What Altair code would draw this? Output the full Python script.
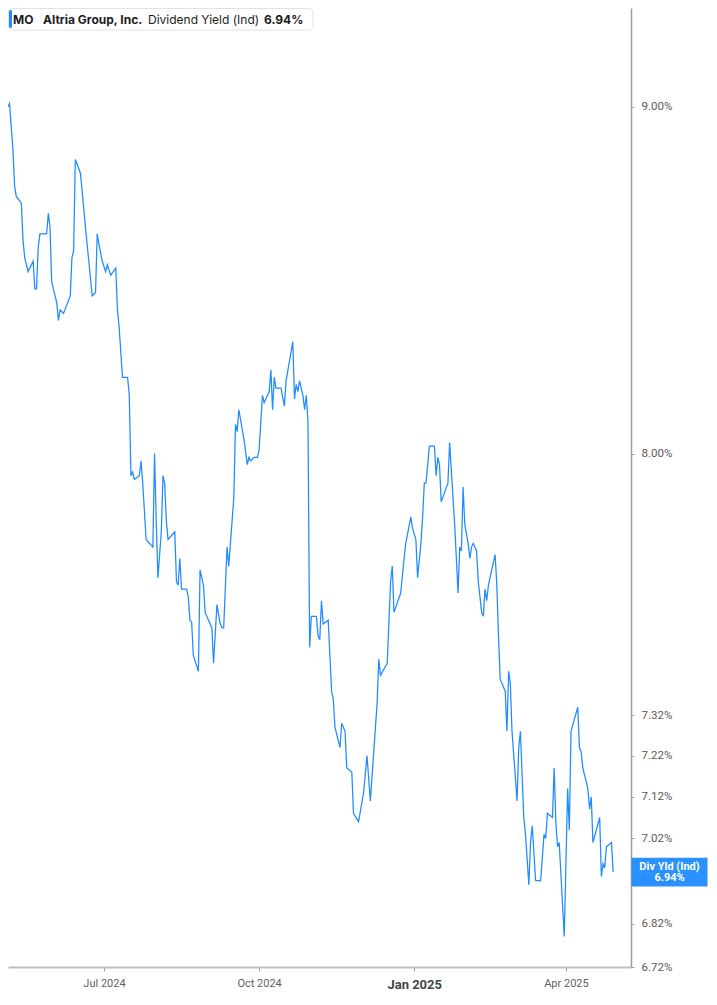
import altair as alt
import pandas as pd

dates = [
    "2024-04-30", "2024-05-01", "2024-05-02", "2024-05-03", "2024-05-05", "2024-05-06", "2024-05-08", "2024-05-09",
    "2024-05-10", "2024-05-13", "2024-05-14", "2024-05-15", "2024-05-17", "2024-05-20", "2024-05-21", "2024-05-22",
    "2024-05-23", "2024-05-24", "2024-05-28", "2024-05-29", "2024-05-30", "2024-05-31",
    "2024-06-03", "2024-06-04", "2024-06-05", "2024-06-07", "2024-06-11", "2024-06-12", "2024-06-13", "2024-06-14",
    "2024-06-17", "2024-06-18", "2024-06-20", "2024-06-22", "2024-06-24", "2024-06-26", "2024-06-27", "2024-06-28",
    "2024-06-30",
    "2024-07-02", "2024-07-03", "2024-07-05", "2024-07-08", "2024-07-09", "2024-07-10", "2024-07-12", "2024-07-15",
    "2024-07-16", "2024-07-17", "2024-07-18", "2024-07-19", "2024-07-22", "2024-07-23", "2024-07-24", "2024-07-26",
    "2024-07-30", "2024-07-31",
    "2024-08-01", "2024-08-02", "2024-08-04", "2024-08-05", "2024-08-06", "2024-08-07", "2024-08-08", "2024-08-12",
    "2024-08-13", "2024-08-14", "2024-08-15", "2024-08-16", "2024-08-19", "2024-08-20", "2024-08-21", "2024-08-22",
    "2024-08-23", "2024-08-26", "2024-08-27", "2024-08-29", "2024-08-30",
    "2024-09-03", "2024-09-04", "2024-09-06", "2024-09-08", "2024-09-09", "2024-09-10", "2024-09-12", "2024-09-13",
    "2024-09-16", "2024-09-17", "2024-09-18", "2024-09-19", "2024-09-22", "2024-09-24", "2024-09-25", "2024-09-26",
    "2024-09-28", "2024-09-30",
    "2024-10-01", "2024-10-03", "2024-10-04", "2024-10-07", "2024-10-08", "2024-10-09", "2024-10-10", "2024-10-11",
    "2024-10-14", "2024-10-16", "2024-10-17", "2024-10-21", "2024-10-22", "2024-10-23", "2024-10-24", "2024-10-25",
    "2024-10-27", "2024-10-28", "2024-10-29", "2024-10-30", "2024-10-31",
    "2024-11-01", "2024-11-04", "2024-11-05", "2024-11-06", "2024-11-07", "2024-11-08", "2024-11-11", "2024-11-13",
    "2024-11-14", "2024-11-15", "2024-11-18", "2024-11-19", "2024-11-21", "2024-11-22", "2024-11-25", "2024-11-26",
    "2024-11-29",
    "2024-12-02", "2024-12-04", "2024-12-06", "2024-12-08", "2024-12-10", "2024-12-11", "2024-12-12", "2024-12-16",
    "2024-12-18", "2024-12-19", "2024-12-20", "2024-12-24", "2024-12-26", "2024-12-27", "2024-12-30", "2024-12-31",
    "2025-01-02", "2025-01-03", "2025-01-05", "2025-01-06", "2025-01-07", "2025-01-08", "2025-01-10", "2025-01-13",
    "2025-01-14", "2025-01-15", "2025-01-16", "2025-01-17", "2025-01-21", "2025-01-22", "2025-01-25", "2025-01-26",
    "2025-01-27", "2025-01-28", "2025-01-29", "2025-01-30", "2025-01-31",
    "2025-02-02", "2025-02-03", "2025-02-04", "2025-02-05", "2025-02-07", "2025-02-08", "2025-02-10", "2025-02-11",
    "2025-02-12", "2025-02-13", "2025-02-14", "2025-02-16", "2025-02-18", "2025-02-19", "2025-02-20", "2025-02-21",
    "2025-02-24", "2025-02-25", "2025-02-26", "2025-02-27", "2025-02-28",
    "2025-03-03", "2025-03-04", "2025-03-05", "2025-03-07", "2025-03-08", "2025-03-10", "2025-03-11", "2025-03-12",
    "2025-03-14", "2025-03-17", "2025-03-19", "2025-03-20", "2025-03-21", "2025-03-24", "2025-03-25", "2025-03-26",
    "2025-03-27", "2025-03-28", "2025-03-31",
    "2025-04-02", "2025-04-03", "2025-04-04", "2025-04-08", "2025-04-09", "2025-04-10", "2025-04-11", "2025-04-14",
    "2025-04-15", "2025-04-16", "2025-04-17", "2025-04-21", "2025-04-22", "2025-04-23", "2025-04-24", "2025-04-25",
    "2025-04-28", "2025-04-29",
]

yields = [
    8.95, 8.94, 8.91, 8.99, 9.00, 9.01, 8.87, 8.76, 8.73, 8.71, 8.60, 8.55, 8.51, 8.54, 8.46, 8.46,
    8.58, 8.62, 8.62, 8.68, 8.64, 8.48,
    8.42, 8.37, 8.40, 8.39, 8.44, 8.55, 8.57, 8.84, 8.80, 8.75, 8.64, 8.54, 8.44, 8.45, 8.62, 8.59,
    8.54,
    8.51, 8.53, 8.50, 8.52, 8.40, 8.35, 8.21, 8.21, 8.16, 7.94, 7.95, 7.93, 7.94, 7.98, 7.92, 7.77,
    7.75, 8.00,
    7.82, 7.67, 7.79, 7.94, 7.92, 7.82, 7.77, 7.79, 7.66, 7.65, 7.72, 7.64, 7.64, 7.62, 7.56, 7.555,
    7.47, 7.43, 7.69, 7.65, 7.58,
    7.54, 7.45, 7.60, 7.55, 7.54, 7.54, 7.75, 7.70, 7.88, 8.08, 8.06, 8.12, 8.04, 7.97, 7.99, 7.98,
    7.99, 7.99,
    8.01, 8.16, 8.14, 8.17, 8.23, 8.12, 8.21, 8.18, 8.18, 8.13, 8.20, 8.31, 8.15, 8.19, 8.17, 8.20,
    8.16, 8.12, 8.16, 8.09, 7.49,
    7.57, 7.57, 7.52, 7.51, 7.61, 7.55, 7.56, 7.38, 7.36, 7.29, 7.24, 7.30, 7.28, 7.19, 7.18, 7.08,
    7.06,
    7.13, 7.22, 7.11, 7.23, 7.35, 7.46, 7.42, 7.45, 7.66, 7.70, 7.58, 7.63, 7.72, 7.76, 7.83, 7.80,
    7.77, 7.67, 7.76, 7.83, 7.92, 7.92, 8.02, 8.02, 7.94, 7.99, 7.97, 7.87, 7.92, 8.03, 7.81, 7.72,
    7.63, 7.75, 7.74, 7.91, 7.81,
    7.76, 7.72, 7.75, 7.76, 7.74, 7.66, 7.58, 7.57, 7.64, 7.61, 7.65, 7.69, 7.73, 7.65, 7.52, 7.41,
    7.38, 7.28, 7.43, 7.40, 7.28,
    7.11, 7.24, 7.28, 7.07, 7.03, 6.91, 7.01, 7.05, 6.92, 6.92, 7.03, 7.02, 7.08, 7.07, 7.19, 7.06,
    7.00, 7.01, 6.79,
    7.14, 7.04, 7.28, 7.34, 7.24, 7.23, 7.19, 7.14, 7.09, 7.12, 7.01, 7.07, 6.93, 6.96, 6.95, 7.00,
    7.01, 6.94,
]

y_ticks = [6.72, 6.82, 6.92, 7.02, 7.12, 7.22, 7.32, 8.00, 9.00]
y_domain = [6.72, 9.307]
x_tick_dates = [(2024, 7, 1), (2024, 10, 1), (2025, 1, 1), (2025, 4, 1)]

ticker = "MO"
company = "Altria Group, Inc."
metric = "Dividend Yield (Ind)"
tag_label = "Div Yld (Ind)"

BLUE = "#1f8bff"
W, H = 623, 959
TAG_X, TAG_W = 661.5, 76

df = pd.DataFrame({"date": dates, "yield": yields})
last = df.tail(1).copy()
last["label"] = last["yield"].map(lambda v: f"{v:.2f}%")

x_scale = alt.Scale(
    type="utc",
    domain=[
        alt.DateTime(year=2024, month=5, date=5, hours=2, utc=True),
        alt.DateTime(year=2025, month=5, date=9, hours=14, utc=True),
    ],
)
is_jan = "utcmonth(datum.value) == 0"
x_axis = alt.Axis(
    values=[alt.DateTime(year=y, month=m, date=d, utc=True) for (y, m, d) in x_tick_dates],
    labelExpr="utcFormat(datum.value, '%b %Y')",
    grid=False,
    domainColor="#bdbdbd",
    domainWidth=2,
    tickColor="#9e9e9e",
    tickSize=4,
    labelFont="Roboto",
    labelFontSize={"condition": {"test": is_jan, "value": 13}, "value": 11},
    labelFontWeight={"condition": {"test": is_jan, "value": "bold"}, "value": "normal"},
    labelColor={"condition": {"test": is_jan, "value": "#444444"}, "value": "#5f5f5f"},
    labelPadding={"condition": {"test": is_jan, "value": 7}, "value": 6},
    labelOverlap=False,
    title=None,
)
y_scale = alt.Scale(type="log", domain=y_domain, nice=False)
y_axis = alt.Axis(
    orient="right",
    values=y_ticks,
    labelExpr="format(datum.value, '.2f') + '%'",
    grid=False,
    domainColor="#9e9e9e",
    domainWidth=1.5,
    tickColor="#9e9e9e",
    tickSize=3,
    labelPadding=7,
    labelColor="#5a5a5a",
    labelFont="Roboto",
    labelFontSize=11.5,
    labelOverlap=False,
    title=None,
)

line = alt.Chart(df).mark_line(color=BLUE, strokeWidth=1.25, clip=True).encode(
    x=alt.X("date:T", scale=x_scale, axis=x_axis),
    y=alt.Y("yield:Q", scale=y_scale, axis=y_axis),
)

tag_box = alt.Chart(last).mark_point(
    shape="M-1,-0.38L1,-0.38L1,0.38L-1,0.38Z",
    size=TAG_W * TAG_W,
    filled=True,
    fill=BLUE,
    opacity=0.95,
    strokeWidth=0,
).encode(x=alt.value(TAG_X), y=alt.Y("yield:Q", scale=y_scale))

tag_text1 = alt.Chart(last).mark_text(
    text=tag_label, color="white", fontWeight="bold", fontSize=11, font="Roboto", dy=-5
).encode(x=alt.value(TAG_X), y=alt.Y("yield:Q", scale=y_scale))

tag_text2 = alt.Chart(last).mark_text(
    color="white", fontWeight="bold", fontSize=11, font="Roboto", dy=6
).encode(x=alt.value(TAG_X), y=alt.Y("yield:Q", scale=y_scale), text="label:N")

hdr = pd.DataFrame({"k": [0]})
hdr_box = alt.Chart(hdr).mark_rect(
    fill="white", stroke="#e2e2e2", strokeWidth=1, cornerRadius=4
).encode(x=alt.value(0.5), x2=alt.value(305), y=alt.value(0.5), y2=alt.value(22))
hdr_bar = alt.Chart(hdr).mark_rect(fill=BLUE, cornerRadius=1.5).encode(
    x=alt.value(1), x2=alt.value(4), y=alt.value(2), y2=alt.value(20)
)


def hdr_text(txt, xpos, weight):
    return alt.Chart(hdr).mark_text(
        text=txt, align="left", baseline="middle", font="Inter", fontSize=12,
        fontWeight=weight, color="#1c1c1c"
    ).encode(x=alt.value(xpos), y=alt.value(11.5))


chart = alt.layer(
    line,
    tag_box,
    tag_text1,
    tag_text2,
    hdr_box,
    hdr_bar,
    hdr_text(ticker, 5, "bold"),
    hdr_text(company, 35, "bold"),
    hdr_text(metric, 140, "normal"),
    hdr_text(last["label"].iloc[0], 256, "bold"),
).properties(
    width=W, height=H, padding=0, background="white"
).configure_view(strokeWidth=0)

chart.save("out.html", embed_options={"renderer": "svg", "actions": False})
